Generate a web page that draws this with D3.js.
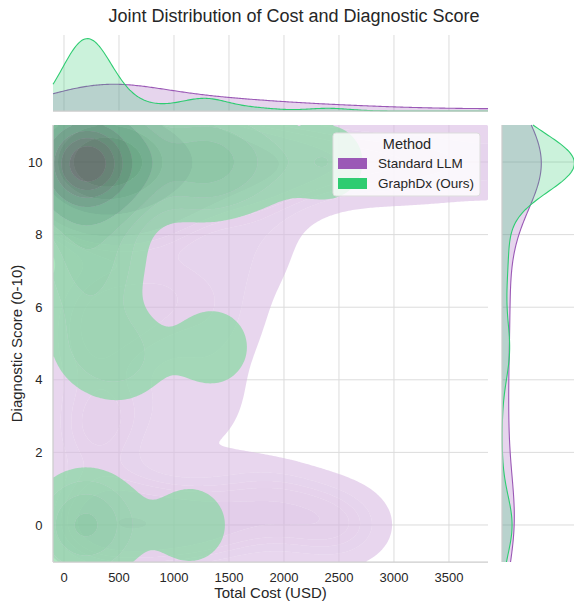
<!DOCTYPE html>
<html>
<head>
<meta charset="utf-8">
<script src="https://cdn.jsdelivr.net/npm/d3@7"></script>
<style>
  body { margin: 0; background: #fff; }
  text { font-family: "Liberation Sans", Arial, sans-serif; fill: #262626; }
</style>
</head>
<body>
<div id="chart"></div>
<script>
// ---- data ----
var methods = ["Standard LLM", "GraphDx (Ours)"];
var colors = ["#9b59b6", "#2ecc71"];
var xTicks = [0, 500, 1000, 1500, 2000, 2500, 3000, 3500];
var yTicks = [0, 2, 4, 6, 8, 10];

// Standard LLM cases (cost in USD, score 0-10)
var stdCost = [40, 90, 140, 190, 240, 290, 340, 390, 440, 500, 560, 620, 690, 760, 300, 200,
  900, 1100, 1350, 1650, 2000, 2400, 2900, 3400, 4000, 4600,
  100, 400, 750, 1100, 1500, 1900, 2300, 2700,
  200, 700, 1500, 1350, 500, 150, 1000, 1800, 100];
var stdScore = [10, 10, 10, 10, 10, 10, 10, 10, 10, 10, 10, 10, 10, 10, 10, 10,
  10, 10, 10, 10, 10, 10, 10, 10, 10, 10,
  0, 0, 0, 0, 0, 0.8, 0, 0,
  6.5, 5.5, 5.5, 3.4, 3, 2.5, 7, 7.5, 4.8];

// GraphDx cases
var gdxCost = [40, 60, 80, 110, 135, 155, 170, 185, 190, 200, 205, 215, 230, 240, 250, 270, 300, 320, 340, 400,
  150, 260, 600, 850,
  1200, 1300, 1380, 1750, 2400,
  100, 350, 200,
  250, 550, 1350,
  120, 200, 280, 1150];
var gdxScore = [10, 10, 10, 10, 10, 10, 10, 10, 10, 10, 10, 10, 10, 10, 10, 10, 10, 10, 10, 10,
  9.5, 9.5, 10, 10,
  10, 10, 10, 10, 10,
  8, 7.5, 6.6,
  5, 4.6, 4.9,
  0, 0, 0, 0];

var groups = [
  {name: methods[0], color: colors[0], cost: stdCost, score: stdScore,
   sx: 380, sy: 1.05, bx: 480, by: 1.35, cLight: 40, cDark: 60, sat: 0.75},
  {name: methods[1], color: colors[1], cost: gdxCost, score: gdxScore,
   sx: 270, sy: 0.85, bx: 200, by: 0.8, cLight: 80, cDark: 40, sat: 0.8}
];
var nTotal = stdCost.length + gdxCost.length;

// ---- layout ----
var W = 574, H = 603;
var jl = 53, jr = 488, jt = 125, jb = 562;
var mTop = 35, mBottom = 111;      // top marginal
var mLeft = 502, mRight = 578;     // right marginal
var xDom = [-100, 3855], yDom = [-1.02, 11.02];

var x = d3.scaleLinear().domain(xDom).range([jl, jr]);
var y = d3.scaleLinear().domain(yDom).range([jb, jt]);

var svg = d3.select("#chart").append("svg")
  .attr("width", W).attr("height", H)
  .style("background", "#fff");

svg.append("defs").append("clipPath").attr("id", "jclip")
  .append("rect").attr("x", jl).attr("y", jt).attr("width", jr - jl).attr("height", jb - jt);

// grids
var grid = svg.append("g").attr("stroke", "#dcdcdc").attr("stroke-width", 1);
xTicks.forEach(function(t) {
  grid.append("line").attr("x1", x(t)).attr("x2", x(t)).attr("y1", jt).attr("y2", jb);
  grid.append("line").attr("x1", x(t)).attr("x2", x(t)).attr("y1", mTop).attr("y2", mBottom);
});
yTicks.forEach(function(t) {
  grid.append("line").attr("x1", jl).attr("x2", jr).attr("y1", y(t)).attr("y2", y(t));
  grid.append("line").attr("x1", mLeft).attr("x2", mRight).attr("y1", y(t)).attr("y2", y(t));
});

// ---- 2D kde ----
var nx = 220, ny = 220;
var gx = d3.range(nx).map(function(i) { return xDom[0] + (i + 0.5) * (xDom[1] - xDom[0]) / nx; });
var gy = d3.range(ny).map(function(j) { return yDom[1] - (j + 0.5) * (yDom[1] - yDom[0]) / ny; });

function kde2d(g) {
  var vals = new Float64Array(nx * ny);
  g.cost.forEach(function(c, k) {
    var s = g.score[k];
    var ex = gx.map(function(v) { return Math.exp(-0.5 * Math.pow((v - c) / g.sx, 2)); });
    var ey = gy.map(function(v) { return Math.exp(-0.5 * Math.pow((v - s) / g.sy, 2)); });
    for (var j = 0; j < ny; j++) {
      if (ey[j] < 1e-9) continue;
      for (var i = 0; i < nx; i++) vals[j * nx + i] += ey[j] * ex[i];
    }
  });
  return vals;
}

// iso-proportion levels, like seaborn (thresh 0.05, 10 levels)
function isoLevels(vals) {
  var sorted = Array.from(vals).sort(function(a, b) { return b - a; });
  var total = d3.sum(sorted), cum = 0;
  var cs = sorted.map(function(v) { return (cum += v) / total; });
  return d3.range(10).map(function(i) {
    var p = 0.05 + i * 0.95 / 9;
    var idx = d3.bisectLeft(cs, 1 - p);
    return sorted[Math.min(idx, sorted.length - 1)];
  });
}

function cmap(g, t) {
  var h = d3.hcl(g.color).h;
  var L = 80 - 45 * t;
  var xx = 0.74 - 1.74 * t;
  var C = (g.cLight + (g.cDark - g.cLight) * t) * g.sat * Math.cos(xx);
  return d3.hcl(h, C, L).formatHex();
}

var proj = d3.geoPath(d3.geoTransform({
  point: function(px, py) {
    this.stream.point(jl + px * (jr - jl) / nx, jt + py * (jb - jt) / ny);
  }
}));

var joint = svg.append("g").attr("clip-path", "url(#jclip)");

groups.forEach(function(g) {
  var vals = kde2d(g);
  var levels = isoLevels(vals);
  var cont = d3.contours().size([nx, ny]).thresholds(levels)(vals);
  var gl = joint.append("g");
  for (var i = 0; i < 9; i++) {
    var t = ((levels[i] + levels[i + 1]) / 2 - levels[0]) / (levels[9] - levels[0]);
    gl.append("path")
      .attr("d", proj(cont[i]) + (proj(cont[i + 1]) || ""))
      .attr("fill-rule", "evenodd")
      .attr("fill", cmap(g, t))
      .attr("fill-opacity", 0.6);
  }
});

// ---- marginals ----
function kde1d(vals, bw, grid) {
  var norm = 1 / (nTotal * bw * Math.sqrt(2 * Math.PI));
  return grid.map(function(v) {
    return norm * d3.sum(vals, function(d) { return Math.exp(-0.5 * Math.pow((v - d) / bw, 2)); });
  });
}

var mxGrid = d3.range(301).map(function(i) { return xDom[0] + i * (xDom[1] - xDom[0]) / 300; });
var myGrid = d3.range(301).map(function(i) { return yDom[0] + i * (yDom[1] - yDom[0]) / 300; });
var topDens = groups.map(function(g) { return kde1d(g.cost, g.bx, mxGrid); });
var rightDens = groups.map(function(g) { return kde1d(g.score, g.by, myGrid); });

var topY = d3.scaleLinear().domain([0, d3.max(topDens, function(a) { return d3.max(a); }) * 1.05]).range([mBottom, mTop]);
var rightX = d3.scaleLinear().domain([0, d3.max(rightDens, function(a) { return d3.max(a); }) * 1.05]).range([mLeft, mRight]);

groups.forEach(function(g, k) {
  var pts = mxGrid.map(function(v, i) { return [v, topDens[k][i]]; });
  svg.append("path").datum(pts)
    .attr("fill", g.color).attr("fill-opacity", 0.25)
    .attr("d", d3.area().x(function(d) { return x(d[0]); }).y0(mBottom).y1(function(d) { return topY(d[1]); }));
  svg.append("path").datum(pts)
    .attr("fill", "none").attr("stroke", g.color).attr("stroke-width", 1.1)
    .attr("d", d3.line().x(function(d) { return x(d[0]); }).y(function(d) { return topY(d[1]); }));

  var rpts = myGrid.map(function(v, i) { return [v, rightDens[k][i]]; });
  svg.append("path").datum(rpts)
    .attr("fill", g.color).attr("fill-opacity", 0.25)
    .attr("d", d3.area().y(function(d) { return y(d[0]); }).x0(mLeft).x1(function(d) { return rightX(d[1]); }));
  svg.append("path").datum(rpts)
    .attr("fill", "none").attr("stroke", g.color).attr("stroke-width", 1.1)
    .attr("d", d3.line().y(function(d) { return y(d[0]); }).x(function(d) { return rightX(d[1]); }));
});

// spines
var sp = svg.append("g").attr("stroke", "#cccccc").attr("stroke-width", 1.25);
sp.append("line").attr("x1", jl).attr("x2", jl).attr("y1", jt).attr("y2", jb);
sp.append("line").attr("x1", jl).attr("x2", jr).attr("y1", jb).attr("y2", jb);
sp.append("line").attr("x1", jl).attr("x2", jr).attr("y1", mBottom).attr("y2", mBottom);
sp.append("line").attr("x1", mLeft).attr("x2", mLeft).attr("y1", jt).attr("y2", jb);

// tick labels
svg.append("g").selectAll("text").data(xTicks).enter().append("text")
  .attr("x", function(d) { return x(d); }).attr("y", 582)
  .attr("text-anchor", "middle").style("font-size", "13px")
  .text(function(d) { return d; });
svg.append("g").selectAll("text").data(yTicks).enter().append("text")
  .attr("x", 42.5).attr("y", function(d) { return y(d); }).attr("dy", "0.36em")
  .attr("text-anchor", "end").style("font-size", "13px")
  .text(function(d) { return d; });

// labels
svg.append("text").attr("x", (jl + jr) / 2).attr("y", 598)
  .attr("text-anchor", "middle").style("font-size", "15px").text("Total Cost (USD)");
svg.append("text").attr("transform", "translate(22," + ((jt + jb) / 2) + ") rotate(-90)")
  .attr("text-anchor", "middle").style("font-size", "15px").text("Diagnostic Score (0-10)");
svg.append("text").attr("x", 294).attr("y", 22)
  .attr("text-anchor", "middle").style("font-size", "18px").text("Joint Distribution of Cost and Diagnostic Score");

// legend
var lg = svg.append("g").attr("transform", "translate(333,133)");
lg.append("rect").attr("width", 147).attr("height", 63).attr("rx", 3)
  .attr("fill", "#fff").attr("fill-opacity", 0.8).attr("stroke", "#dddddd");
lg.append("text").attr("x", 74).attr("y", 16).attr("text-anchor", "middle")
  .style("font-size", "14.5px").text("Method");
methods.forEach(function(m, i) {
  lg.append("rect").attr("x", 5).attr("y", 25 + i * 20).attr("width", 29).attr("height", 11)
    .attr("fill", colors[i]);
  lg.append("text").attr("x", 45).attr("y", 35 + i * 20)
    .style("font-size", "13.5px").text(m);
});
</script>
</body>
</html>
